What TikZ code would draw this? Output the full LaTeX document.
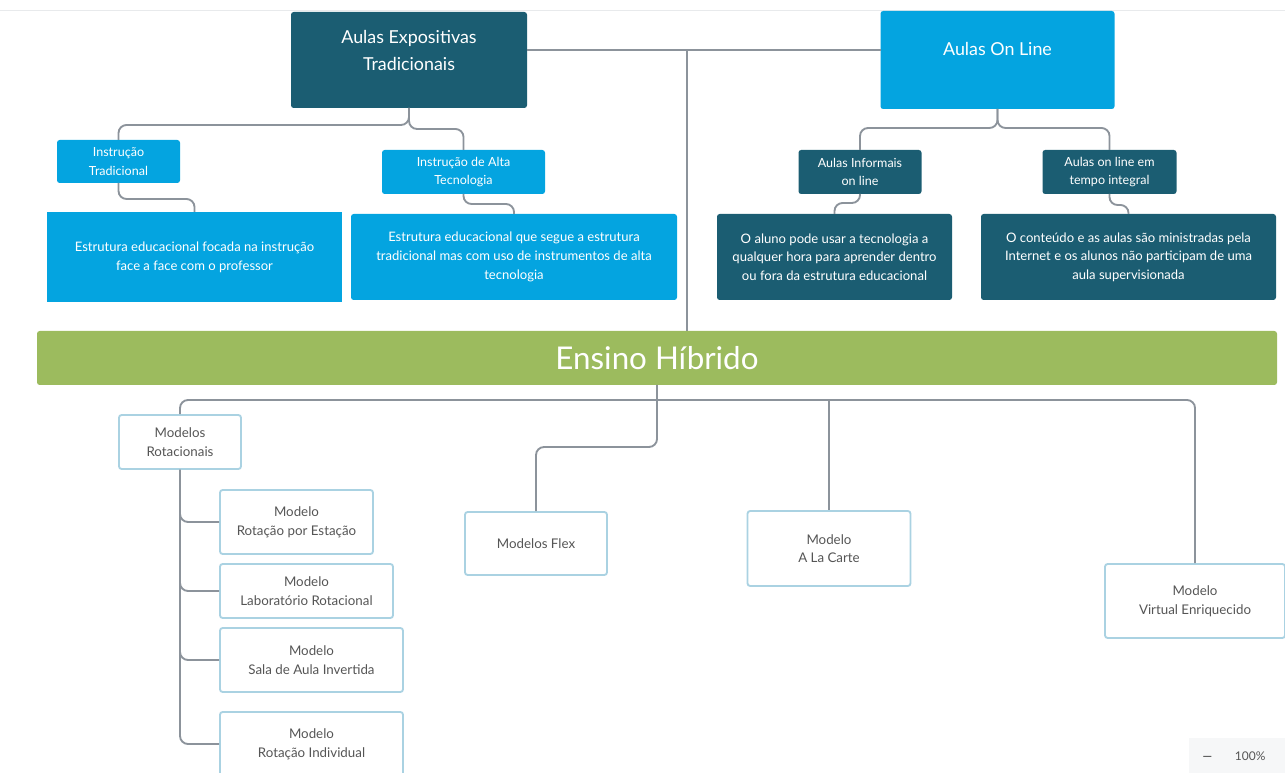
\documentclass[tikz,border=0pt]{standalone}
\usepackage{fontspec}
\setmainfont{Lato}
\definecolor{tealdark}{RGB}{27,93,114}
\definecolor{skyblue}{RGB}{4,164,224}
\definecolor{leafgreen}{RGB}{156,187,94}
\definecolor{linkgray}{RGB}{140,147,155}
\definecolor{edgeblue}{RGB}{170,210,226}
\definecolor{txtgray}{RGB}{85,85,85}

\begin{document}
\begin{tikzpicture}[x=0.75pt,y=0.75pt,yscale=-1,xscale=1,
  conn/.style={draw=linkgray,line width=1.4pt,rounded corners=6pt},
  darkbox/.style={fill=tealdark,text=white,rounded corners=2pt,inner sep=0pt,outer sep=0pt,align=center},
  bluebox/.style={fill=skyblue,text=white,rounded corners=2pt,inner sep=0pt,outer sep=0pt,align=center},
  modbox/.style={draw=edgeblue,line width=1.4pt,fill=white,text=txtgray,rounded corners=2pt,inner sep=0pt,align=center,font=\fontsize{10}{14}\selectfont},
  smalltxt/.style={font=\fontsize{9.4}{14}\selectfont},
  desctxt/.style={font=\fontsize{9.8}{14}\selectfont},
  wh/.style 2 args={minimum width=#1*0.75pt,minimum height=#2*0.75pt}]
\useasboundingbox (0,0) rectangle (1285,773);
%top border
\draw [color={rgb, 255:red, 232; green, 234; blue, 236 }] (0,10) -- (1285,10);

%Shape: Rectangle [top left]
\node [darkbox,wh={236}{96},text depth=14pt,font=\fontsize{13.4}{20}\selectfont] (aet) at (409,60) {Aulas Expositivas\\Tradicionais};
%Shape: Rectangle [top right]
\node [bluebox,wh={234}{98},text depth=16pt,font=\fontsize{13.4}{20}\selectfont] (aol) at (997.5,60) {Aulas On Line};

%Shape: Rectangle [children left]
\node [bluebox,smalltxt,wh={123}{43}] (itrad) at (118.5,161.5) {Instrução\\Tradicional};
\node [bluebox,smalltxt,wh={163}{44}] (ialta) at (463.5,172) {Instrução de Alta\\Tecnologia};
\node [bluebox,desctxt,rounded corners=0pt,wh={295}{90}] (est1) at (194.5,257) {Estrutura educacional focada na instrução\\face a face com o professor};
\node [bluebox,desctxt,wh={326}{86}] (est2) at (514,257) {Estrutura educacional que segue a estrutura\\tradicional mas com uso de instrumentos de alta\\tecnologia};

%Shape: Rectangle [children right]
\node [darkbox,smalltxt,wh={123}{44}] (ainf) at (860,172) {Aulas Informais\\on line};
\node [darkbox,smalltxt,wh={134}{44}] (aint) at (1109.5,172) {Aulas on line em\\tempo integral};
\node [darkbox,desctxt,wh={235}{86}] (aluno) at (834.5,257) {O aluno pode usar a tecnologia a\\qualquer hora para aprender dentro\\ou fora da estrutura educacional};
\node [darkbox,desctxt,wh={295}{86}] (cont) at (1128.5,257) {O conteúdo e as aulas são ministradas pela\\Internet e os alunos não participam de uma\\aula supervisionada};

%Shape: Rectangle [green bar]
\node [fill=leafgreen,text=white,inner sep=0pt,outer sep=0pt,rounded corners=2pt,wh={1240}{54},font=\fontsize{23.5}{28}\selectfont] (hib) at (657,358) {Ensino Híbrido};

%Shape: Rectangle [models]
\node [modbox,wh={122}{54}] (mrot) at (180,442) {Modelos\\Rotacionais};
\node [modbox,wh={153}{64}] (mre) at (296.5,522) {Modelo\\Rotação por Estação};
\node [modbox,wh={173}{54}] (mlr) at (306.5,591) {Modelo\\Laboratório Rotacional};
\node [modbox,wh={183}{64}] (msai) at (311.5,660) {Modelo\\Sala de Aula Invertida};
\node [modbox,wh={183}{64}] (mri) at (311.5,744) {Modelo\\Rotação Individual};
\node [modbox,wh={142}{63}] (mflex) at (536,543.5) {Modelos Flex};
\node [modbox,wh={163}{75}] (mlac) at (829,548.5) {Modelo\\A La Carte};
\node [modbox,wh={180}{74}] (mve) at (1195,601) {Modelo\\Virtual Enriquecido};

%zoom widget
\node [fill={rgb, 255:red, 246; green, 247; blue, 248 },inner sep=0pt,wh={96}{35},anchor=north west] (zoomw) at (1189,738) {};
\node [text=txtgray,font=\fontsize{9}{10}\selectfont,anchor=west] (zoomt) at (1198,756) {\textbf{—}\hspace{17pt}100\%};

%Straight Lines [top connectors]
\coordinate (tj) at (687,50);
\draw [conn,rounded corners=0pt] (aet.east |- tj) -- (aol.west |- tj);
\draw [conn,rounded corners=0pt] (tj) -- (hib.north -| tj);
\draw [conn] (aet.south) -- ++(0,17) -| (itrad.north);
\draw [conn] (aet.south) -- ++(0,21) -| (ialta.north);
\draw [conn] (itrad.south) -- ++(0,16) -| (est1.north);
\draw [conn] (ialta.south) -- ++(0,10) -| (est2.north);
\draw [conn] (aol.south) -- ++(0,19) -| (ainf.north);
\draw [conn] (aol.south) -- ++(0,19) -| (aint.north);
\draw [conn] (ainf.south) -- ++(0,9) -| (aluno.north);
\draw [conn] (aint.south) -- ++(0,11) -| (cont.north);

%Straight Lines [bottom connectors]
\coordinate (hl) at (657,400);
\draw [conn] (mrot.north) |- (hl) -| (mve.north);
\draw [conn] (hib.south) -- ++(0,62) -| (mflex.north);
\draw [conn,rounded corners=0pt] (mlac.north |- hl) -- (mlac.north);
\draw [conn] (mrot.south) |- (mre.west);
\draw [conn] (mrot.south) |- (mlr.west);
\draw [conn] (mrot.south) |- (msai.west);
\draw [conn] (mrot.south) |- (mri.west);
\end{tikzpicture}
\end{document}
